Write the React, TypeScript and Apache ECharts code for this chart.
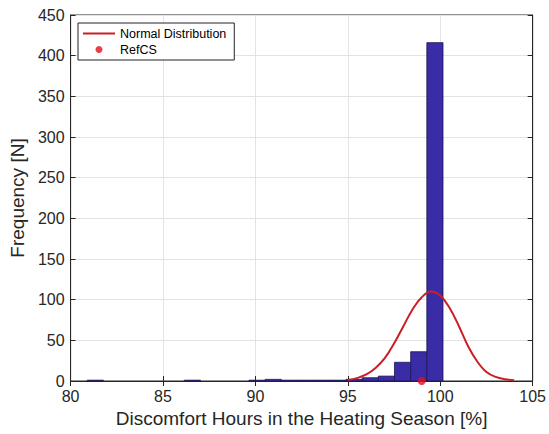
import React, { useEffect, useRef } from "react";
import * as echarts from "echarts";

// Histogram bins (left edges, width) and counts
const binLeftEdges = [
  80.9, 81.775, 82.65, 83.525, 84.4, 85.275, 86.15, 87.025, 87.9, 88.775, 89.65,
  90.525, 91.4, 92.275, 93.15, 94.025, 94.9, 95.775, 96.65, 97.525, 98.4, 99.275,
];
const binWidth = 0.875;
const binCounts = [1, 0, 0, 0, 0, 0, 1, 0, 0, 0, 1, 2, 1, 1, 1, 1, 2, 4, 6, 23, 36, 416];

// Normal distribution curve
const normalX = [95, 95.5, 96, 96.5, 97, 97.5, 98, 98.5, 99, 99.5, 100, 100.5, 101, 101.5, 102, 102.5, 103, 103.5, 104];
const normalY = [1.2, 3.5, 8, 16, 28, 46, 67, 88, 103, 110, 105, 90, 68, 43, 24, 11, 5, 2.2, 1];

// Reference case point
const refCS = [[99.0, 0]];

const xTicks = { min: 80, max: 105, interval: 5 };
const yTicks = { min: 0, max: 450, interval: 50 };

export default function App() {
  const ref = useRef<HTMLDivElement>(null);
  useEffect(() => {
    document.body.style.margin = "0";
    if (!ref.current) return;
    const chart = echarts.init(ref.current, null, { renderer: "svg" });
    const histData = binCounts.map((c, i) => [binLeftEdges[i], binLeftEdges[i] + binWidth, c]);
    const font = "'Liberation Sans', Arial, Helvetica, sans-serif";
    const axisColor = "#262626";
    const gridColor = "#e3e3e3";
    chart.setOption({
      animation: false,
      backgroundColor: "#ffffff",
      textStyle: { fontFamily: font },
      grid: { left: 67, right: 16, top: 15, bottom: 53, show: true, borderColor: axisColor, borderWidth: 1 },
      legend: {
        orient: "vertical",
        left: 78,
        top: 23,
        padding: [4, 8, 4, 4],
        itemGap: 3,
        itemWidth: 32,
        itemHeight: 7,
        borderColor: "#222",
        borderWidth: 1,
        backgroundColor: "#fff",
        textStyle: { fontSize: 12.5, color: "#000", fontFamily: font },
        data: [
          { name: "Normal Distribution", itemStyle: { opacity: 0 } },
          { name: "RefCS" },
        ],
      },
      xAxis: [
        {
          type: "value",
          ...xTicks,
          name: "Discomfort Hours in the Heating Season [%]",
          nameLocation: "middle",
          nameGap: 23,
          nameTextStyle: { fontSize: 19, color: axisColor, fontFamily: font },
          axisLine: { show: true, onZero: false, lineStyle: { color: axisColor } },
          axisTick: { show: true, inside: true, length: 5, lineStyle: { color: axisColor } },
          axisLabel: { fontSize: 16, color: axisColor, margin: 7, fontFamily: font },
          splitLine: { show: true, lineStyle: { color: gridColor } },
        },
        {
          type: "value",
          ...xTicks,
          position: "top",
          axisLine: { show: true, lineStyle: { color: axisColor } },
          axisTick: { show: true, inside: true, length: 5, lineStyle: { color: axisColor } },
          axisLabel: { show: false },
          splitLine: { show: false },
        },
      ],
      yAxis: [
        {
          type: "value",
          ...yTicks,
          name: "Frequency [N]",
          nameLocation: "middle",
          nameGap: 40,
          nameTextStyle: { fontSize: 19, color: axisColor, fontFamily: font },
          axisLine: { show: true, lineStyle: { color: axisColor } },
          axisTick: { show: true, inside: true, length: 5, lineStyle: { color: axisColor } },
          axisLabel: { fontSize: 16, color: axisColor, margin: 6, fontFamily: font },
          splitLine: { show: true, lineStyle: { color: gridColor } },
        },
        {
          type: "value",
          ...yTicks,
          position: "right",
          axisLine: { show: true, lineStyle: { color: axisColor } },
          axisTick: { show: true, inside: true, length: 5, lineStyle: { color: axisColor } },
          axisLabel: { show: false },
          splitLine: { show: false },
        },
      ],
      series: [
        {
          name: "Histogram",
          type: "custom",
          xAxisIndex: 0,
          yAxisIndex: 0,
          data: histData,
          encode: { x: [0, 1], y: 2 },
          renderItem: (params: any, api: any) => {
            const count = api.value(2);
            if (!count) return null;
            const p1 = api.coord([api.value(0), count]);
            const p2 = api.coord([api.value(1), 0]);
            return {
              type: "rect",
              shape: { x: p1[0], y: p1[1], width: p2[0] - p1[0], height: p2[1] - p1[1] },
              style: { fill: "#3a2ba6", stroke: "#1c1650", lineWidth: 0.8 },
            };
          },
          z: 2,
        },
        {
          name: "Normal Distribution",
          type: "line",
          xAxisIndex: 0,
          yAxisIndex: 0,
          data: normalX.map((x, i) => [x, normalY[i]]),
          smooth: 0.4,
          symbol: "none",
          lineStyle: { color: "#cc1f24", width: 2 },
          itemStyle: { color: "#cc1f24" },
          z: 3,
        },
        {
          name: "RefCS",
          type: "scatter",
          xAxisIndex: 0,
          yAxisIndex: 0,
          data: refCS,
          symbol: "circle",
          symbolSize: 8,
          itemStyle: { color: "#e4101a" },
          z: 4,
        },
      ],
    });
    return () => chart.dispose();
  }, []);
  return <div ref={ref} style={{ width: 549, height: 434 }} />;
}
